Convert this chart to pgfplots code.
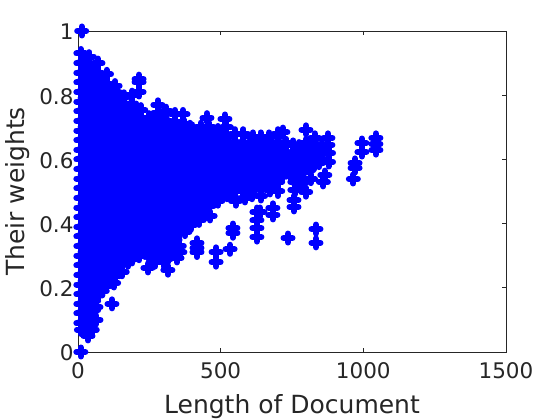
\documentclass[border=0pt]{standalone}
\usepackage{pgfplots}
\pgfplotsset{compat=1.18}
\usepackage{fontspec}
\setmainfont{DejaVu Sans}
\definecolor{ax}{rgb}{0.15,0.15,0.15}
\begin{document}
\begin{tikzpicture}
\path[use as bounding box] (-78pt,-68pt) rectangle (482pt,352pt);
\begin{axis}[
  at={(0pt,0pt)},anchor=south west,
  scale only axis,width=428pt,height=321pt,
  xmin=0,xmax=1500,ymin=0,ymax=1,
  clip=false,
  axis line style={ax,line width=0.7pt},
  tick style={ax,line width=0.6pt},
  major tick length=4pt,
  tick align=inside,
  xtick={0,500,1000,1500},xticklabels={0,500,1000,1500},
  ytick={0,0.2,0.4,0.6,0.8,1},yticklabels={0,0.2,0.4,0.6,0.8,1},
  ticklabel style={font=\fontsize{21.5}{25}\selectfont,text=ax},
  xticklabel style={yshift=-7pt},
  yticklabel style={xshift=-1pt,yshift=-1pt},
  xlabel={Length of Document},ylabel={Their weights},
  label style={font=\fontsize{25}{30}\selectfont,text=ax},
  xlabel style={at={(axis description cs:0.5,0)},anchor=center,yshift=-55pt},
  ylabel style={at={(axis description cs:0,0.5)},anchor=center,yshift=60pt},
]
\addplot[only marks,color={rgb,1:red,0;green,0;blue,1},mark=+,mark size=4.5pt,mark options={solid,line cap=round,line width=6pt}] coordinates {
(13,1)(10,0)
(10,.93)(10,.90)(10,.87)(10,.84)(10,.81)(10,.78)(10,.75)(10,.72)(10,.69)(10,.66)(10,.63)(10,.60)(10,.57)(10,.54)(10,.51)(10,.48)(10,.45)(10,.42)(10,.39)(10,.36)(10,.33)(10,.30)(10,.27)(10,.24)(10,.21)(10,.18)(10,.15)(10,.12)(10,.09)(12,.07)
(40,.92)(40,.895)(40,.865)(40,.835)(40,.805)(40,.775)(40,.745)(40,.715)(40,.685)(40,.655)(40,.625)(40,.595)(40,.565)(40,.535)(40,.505)(40,.475)(40,.445)(40,.415)(40,.385)(40,.355)(40,.325)(40,.295)(40,.265)(40,.235)(40,.205)(40,.175)(40,.145)(40,.115)(40,.085)(35,.05)
(70,.90)(70,.87)(70,.84)(70,.81)(70,.78)(70,.75)(70,.72)(70,.69)(70,.66)(70,.63)(70,.60)(70,.57)(70,.54)(70,.51)(70,.48)(70,.45)(70,.42)(70,.39)(70,.36)(70,.33)(70,.30)(70,.27)(70,.24)(70,.21)(70,.178)(63,.14)(63,.10)(50,.07)
(100,.865)(100,.835)(100,.805)(100,.775)(100,.745)(100,.715)(100,.685)(100,.655)(100,.625)(100,.595)(100,.565)(100,.535)(100,.505)(100,.475)(100,.445)(100,.415)(100,.385)(100,.355)(100,.325)(100,.295)(100,.265)(100,.235)(95,.205)(119,.15)
(130,.83)(130,.81)(130,.78)(130,.75)(130,.72)(130,.69)(130,.66)(130,.63)(130,.60)(130,.57)(130,.54)(130,.51)(130,.48)(130,.45)(130,.42)(130,.39)(130,.36)(130,.33)(130,.30)(130,.27)(130,.24)(125,.215)
(160,.795)(160,.765)(160,.735)(160,.705)(160,.675)(160,.645)(160,.615)(160,.585)(160,.555)(160,.525)(160,.495)(160,.465)(160,.435)(160,.405)(160,.375)(160,.345)(160,.315)(160,.285)(155,.25)
(190,.80)(190,.77)(190,.74)(190,.71)(190,.68)(190,.65)(190,.62)(190,.59)(190,.56)(190,.53)(190,.50)(190,.47)(190,.44)(190,.41)(190,.38)(190,.35)(190,.32)(190,.29)
(214,.85)(214,.84)(214,.81)
(220,.755)(220,.725)(220,.695)(220,.665)(220,.635)(220,.605)(220,.575)(220,.545)(220,.515)(220,.485)(220,.455)(220,.425)(220,.395)(220,.365)(220,.335)(215,.30)
(250,.73)(250,.70)(250,.67)(250,.64)(250,.61)(250,.58)(250,.55)(250,.52)(250,.49)(250,.46)(250,.43)(250,.40)(250,.37)(250,.34)(250,.30)(245,.262)
(280,.77)(280,.745)(280,.715)(280,.685)(280,.655)(280,.625)(280,.595)(280,.565)(280,.535)(280,.505)(280,.475)(280,.445)(280,.415)(280,.385)(280,.355)(280,.325)(285,.295)
(310,.75)(310,.72)(310,.69)(310,.66)(310,.63)(310,.60)(310,.57)(310,.54)(310,.51)(310,.48)(310,.45)(310,.42)(310,.39)(310,.36)(310,.33)(310,.29)(315,.255)
(340,.74)(340,.715)(340,.685)(340,.655)(340,.625)(340,.595)(340,.565)(340,.535)(340,.505)(340,.475)(340,.445)(340,.415)(340,.385)(340,.35)(347,.293)(357,.31)
(368,.74)(370,.71)(370,.68)(370,.65)(370,.62)(370,.59)(370,.56)(370,.53)(370,.50)(370,.47)(370,.44)(370,.41)(375,.375)
(392,.70)(400,.695)(400,.665)(400,.635)(400,.605)(400,.575)(400,.545)(400,.515)(400,.485)(400,.455)(400,.425)(395,.395)
(417,.34)(417,.325)(417,.31)
(430,.70)(430,.67)(430,.64)(430,.61)(430,.58)(430,.55)(430,.52)(430,.49)(430,.46)(430,.43)(425,.41)
(452,.73)(460,.70)(460,.67)(460,.64)(460,.61)(460,.58)(460,.55)(460,.52)(460,.49)(460,.455)(463,.424)
(484,.312)(484,.28)
(490,.69)(490,.66)(490,.63)(490,.60)(490,.57)(490,.54)(490,.51)(490,.47)
(515,.726)(520,.70)(520,.67)(520,.64)(520,.61)(520,.58)(520,.55)(522,.52)(522,.49)
(533,.32)(543,.386)(543,.37)
(550,.68)(550,.65)(550,.62)(550,.59)(550,.56)(550,.53)(550,.50)(552,.47)
(580,.68)(580,.65)(580,.62)(580,.59)(580,.56)(580,.53)(580,.50)(585,.48)
(613,.67)(610,.64)(610,.61)(610,.58)(610,.55)(610,.52)(610,.49)
(627,.436)(627,.41)(627,.386)(627,.358)(638,.436)
(640,.67)(640,.64)(640,.61)(640,.58)(640,.55)(640,.52)(640,.486)
(670,.67)(670,.64)(670,.61)(670,.58)(670,.55)(670,.52)(673,.505)
(683,.449)(683,.427)
(700,.68)(700,.65)(700,.62)(700,.59)(700,.56)(700,.53)(700,.50)
(718,.685)(730,.65)(730,.62)(730,.59)(730,.56)(736,.355)
(757,.473)(757,.452)(760,.505)(760,.53)(760,.56)(760,.59)(760,.62)(755,.645)
(790,.62)(790,.59)(790,.56)(790,.53)
(799,.692)(798,.498)(810,.60)(812,.57)(815,.54)
(830,.667)(817,.604)(834,.383)(834,.34)(840,.62)(845,.59)
(876,.667)(876,.645)(878,.62)(878,.592)(865,.551)(860,.53)(850,.60)(855,.64)
(971,.589)(971,.573)(965,.539)(995,.651)(995,.623)
(1044,.667)(1044,.648)(1044,.629)
(25,.91)(25,.88)(25,.85)(25,.82)(25,.79)(25,.76)(25,.73)(25,.70)(25,.67)(25,.64)(25,.61)(25,.58)(25,.55)(25,.52)(25,.49)(25,.46)(25,.43)(25,.40)(25,.37)(25,.34)(25,.31)(25,.28)(25,.25)(25,.22)(25,.19)(25,.16)(25,.13)(25,.10)
(55,.88)(55,.85)(55,.82)(55,.79)(55,.76)(55,.73)(55,.70)(55,.67)(55,.64)(55,.61)(55,.58)(55,.55)(55,.52)(55,.49)(55,.46)(55,.43)(55,.40)(55,.37)(55,.34)(55,.31)(55,.28)(55,.25)(55,.22)(55,.19)(55,.16)(55,.13)(55,.10)
(85,.85)(85,.82)(85,.79)(85,.76)(85,.73)(85,.70)(85,.67)(85,.64)(85,.61)(85,.58)(85,.55)(85,.52)(85,.49)(85,.46)(85,.43)(85,.40)(85,.37)(85,.34)(85,.31)(85,.28)(85,.25)(85,.22)(85,.19)
(115,.82)(115,.79)(115,.76)(115,.73)(115,.70)(115,.67)(115,.64)(115,.61)(115,.58)(115,.55)(115,.52)(115,.49)(115,.46)(115,.43)(115,.40)(115,.37)(115,.34)(115,.31)(115,.28)(115,.25)(115,.22)
(145,.76)(145,.73)(145,.70)(145,.67)(145,.64)(145,.61)(145,.58)(145,.55)(145,.52)(145,.49)(145,.46)(145,.43)(145,.40)(145,.37)(145,.34)(145,.31)(145,.28)(145,.25)
(175,.76)(175,.73)(175,.70)(175,.67)(175,.64)(175,.61)(175,.58)(175,.55)(175,.52)(175,.49)(175,.46)(175,.43)(175,.40)(175,.37)(175,.34)(175,.31)(175,.28)
(205,.76)(205,.73)(205,.70)(205,.67)(205,.64)(205,.61)(205,.58)(205,.55)(205,.52)(205,.49)(205,.46)(205,.43)(205,.40)(205,.37)(205,.34)(205,.31)
(235,.70)(235,.67)(235,.64)(235,.61)(235,.58)(235,.55)(235,.52)(235,.49)(235,.46)(235,.43)(235,.40)(235,.37)(235,.34)(235,.31)
(265,.73)(265,.70)(265,.67)(265,.64)(265,.61)(265,.58)(265,.55)(265,.52)(265,.49)(265,.46)(265,.43)(265,.40)(265,.37)(265,.34)(265,.31)
(295,.73)(295,.70)(295,.67)(295,.64)(295,.61)(295,.58)(295,.55)(295,.52)(295,.49)(295,.46)(295,.43)(295,.40)(295,.37)(295,.34)(295,.31)
(325,.70)(325,.67)(325,.64)(325,.61)(325,.58)(325,.55)(325,.52)(325,.49)(325,.46)(325,.43)(325,.40)(325,.37)(325,.34)
(355,.70)(355,.67)(355,.64)(355,.61)(355,.58)(355,.55)(355,.52)(355,.49)(355,.46)(355,.43)(355,.40)(355,.37)
(385,.67)(385,.64)(385,.61)(385,.58)(385,.55)(385,.52)(385,.49)(385,.46)(385,.43)(385,.40)
(415,.67)(415,.64)(415,.61)(415,.58)(415,.55)(415,.52)(415,.49)(415,.46)(415,.43)
(445,.67)(445,.64)(445,.61)(445,.58)(445,.55)(445,.52)(445,.49)(445,.46)(445,.43)
(475,.67)(475,.64)(475,.61)(475,.58)(475,.55)(475,.52)(475,.49)
(505,.67)(505,.64)(505,.61)(505,.58)(505,.55)(505,.52)(505,.49)
(535,.64)(535,.61)(535,.58)(535,.55)(535,.52)(535,.49)
(565,.64)(565,.61)(565,.58)(565,.55)(565,.52)
(595,.64)(595,.61)(595,.58)(595,.55)(595,.52)
(625,.64)(625,.61)(625,.58)(625,.55)(625,.52)
(655,.64)(655,.61)(655,.58)(655,.55)(655,.52)
(685,.64)(685,.61)(685,.58)(685,.55)(685,.52)
(715,.64)(715,.61)(715,.58)(715,.55)
(745,.61)(745,.58)(745,.55)
(775,.64)(775,.61)(775,.58)(775,.55)(775,.52)
(805,.63)(825,.58)(835,.64)(800,.65)
(300,.28)(330,.31)(355,.33)(270,.28)(260,.30)
};
\end{axis}
\end{tikzpicture}
\end{document}
